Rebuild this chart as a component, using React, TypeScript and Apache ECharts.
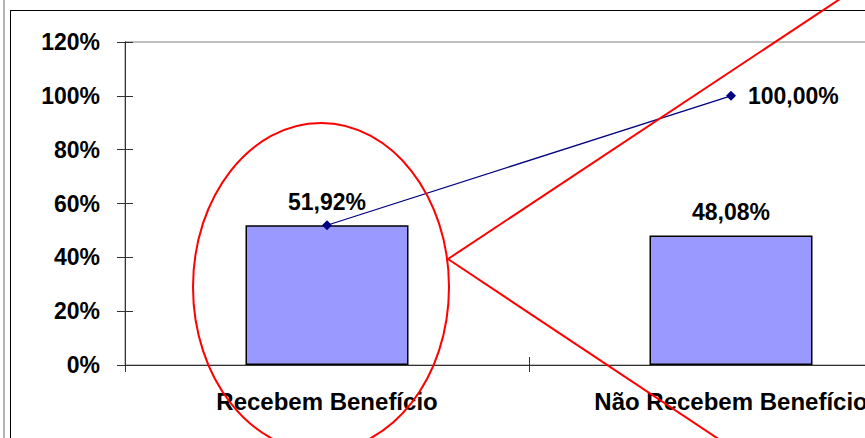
import React, { useEffect, useRef } from "react";
import * as echarts from "echarts";

const categories = ["Recebem Benefício", "Não Recebem Benefício"];
const barValues = [51.92, 48.08];
const cumulativeValues = [51.92, 100.0];
const yTicks = { min: 0, max: 120, interval: 20 };

const FONT = "'Liberation Sans', Arial, sans-serif";
const fmt = (v: number) => v.toFixed(2).replace(".", ",") + "%";

const INNER_W = 1000;

export default function App() {
  const ref = useRef<HTMLDivElement>(null);
  useEffect(() => {
    if (!ref.current) return;
    const chart = echarts.init(ref.current, undefined, { renderer: "svg" });
    const axisLine = { show: true, lineStyle: { color: "#333", width: 1 } };
    const yBase = {
      type: "value" as const,
      min: yTicks.min,
      max: yTicks.max,
      interval: yTicks.interval,
      position: "left" as const,
      splitLine: { show: false },
      axisLine,
    };
    const xBase = {
      type: "category" as const,
      data: categories,
      position: "bottom" as const,
      boundaryGap: true,
      axisLine,
    };
    chart.setOption({
      animation: false,
      backgroundColor: "#fff",
      grid: {
        left: 125,
        top: 42,
        right: INNER_W - 933,
        bottom: 73,
        show: true,
        borderColor: "#808080",
        borderWidth: 1,
        backgroundColor: "transparent",
      },
      xAxis: [
        {
          ...xBase,
          axisTick: { show: true, inside: false, length: 7, lineStyle: { color: "#333" } },
          axisLabel: {
            margin: 24,
            fontFamily: FONT,
            fontWeight: "bold",
            fontSize: 24,
            color: "#000",
          },
        },
        {
          ...xBase,
          axisTick: { show: true, inside: true, length: 8, lineStyle: { color: "#333" } },
          axisLabel: { show: false },
        },
      ],
      yAxis: [
        {
          ...yBase,
          axisTick: { show: true, inside: false, length: 8, lineStyle: { color: "#333" } },
          axisLabel: {
            margin: 25,
            formatter: "{value}%",
            fontFamily: FONT,
            fontWeight: "bold",
            fontSize: 23,
            color: "#000",
          },
        },
        {
          ...yBase,
          axisTick: { show: true, inside: true, length: 8, lineStyle: { color: "#333" } },
          axisLabel: { show: false },
        },
      ],
      series: [
        {
          type: "bar",
          data: barValues,
          barWidth: 163,
          itemStyle: { color: "#9999FF", borderColor: "#000", borderWidth: 1.5 },
          label: {
            show: true,
            position: "top",
            distance: 12,
            formatter: (p: any) => fmt(p.value),
            fontFamily: FONT,
            fontWeight: "bold",
            fontSize: 23,
            color: "#000",
          },
          z: 2,
        },
        {
          type: "line",
          data: cumulativeValues.map((v, i) => ({
            value: v,
            label: { show: i === cumulativeValues.length - 1 },
          })),
          symbol: "diamond",
          symbolSize: 10,
          lineStyle: { color: "#000080", width: 1.3 },
          itemStyle: { color: "#000080" },
          label: {
            position: "right",
            distance: 12,
            formatter: (p: any) => fmt(p.value),
            fontFamily: FONT,
            fontWeight: "bold",
            fontSize: 23,
            color: "#000",
          },
          z: 3,
        },
      ],
      graphic: [
        {
          type: "line",
          z: 100,
          shape: { x1: 4, y1: 0, x2: 4, y2: 438 },
          style: { stroke: "#b4b4b4", lineWidth: 2 },
        },
        {
          type: "line",
          z: 100,
          shape: { x1: 10.5, y1: 10, x2: 10.5, y2: 438 },
          style: { stroke: "#000", lineWidth: 1 },
        },
        {
          type: "line",
          z: 100,
          shape: { x1: 10, y1: 10.5, x2: INNER_W, y2: 10.5 },
          style: { stroke: "#000", lineWidth: 1 },
        },
        {
          type: "ellipse",
          z: 100,
          shape: { cx: 321, cy: 287, rx: 128, ry: 164 },
          style: { fill: "none", stroke: "#ff0000", lineWidth: 2 },
        },
        {
          type: "line",
          z: 100,
          shape: { x1: 448, y1: 259, x2: 840, y2: -1 },
          style: { stroke: "#ff0000", lineWidth: 2 },
        },
        {
          type: "line",
          z: 100,
          shape: { x1: 448, y1: 259, x2: 720, y2: 440 },
          style: { stroke: "#ff0000", lineWidth: 2 },
        },
      ],
    });
    return () => chart.dispose();
  }, []);
  return (
    <div
      style={{
        position: "fixed",
        left: 0,
        top: 0,
        width: 865,
        height: 438,
        overflow: "hidden",
      }}
    >
      <div ref={ref} style={{ width: INNER_W, height: 438 }} />
    </div>
  );
}
